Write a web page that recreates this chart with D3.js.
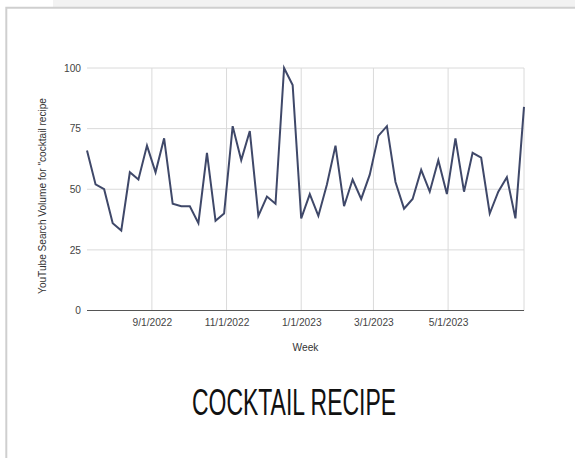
<!DOCTYPE html>
<html>
<head>
<meta charset="utf-8">
<script src="https://cdn.jsdelivr.net/npm/d3@7"></script>
<style>
  body { margin: 0; background: #fff; }
  svg { display: block; }
</style>
</head>
<body>
<div id="chart-area"></div>
<script>
// weekly data
const weeks = [
  "2022-07-10", "2022-07-17", "2022-07-24", "2022-07-31", "2022-08-07", "2022-08-14",
  "2022-08-21", "2022-08-28", "2022-09-04", "2022-09-11", "2022-09-18", "2022-09-25",
  "2022-10-02", "2022-10-09", "2022-10-16", "2022-10-23", "2022-10-30", "2022-11-06",
  "2022-11-13", "2022-11-20", "2022-11-27", "2022-12-04", "2022-12-11", "2022-12-18",
  "2022-12-25", "2023-01-01", "2023-01-08", "2023-01-15", "2023-01-22", "2023-01-29",
  "2023-02-05", "2023-02-12", "2023-02-19", "2023-02-26", "2023-03-05", "2023-03-12",
  "2023-03-19", "2023-03-26", "2023-04-02", "2023-04-09", "2023-04-16", "2023-04-23",
  "2023-04-30", "2023-05-07", "2023-05-14", "2023-05-21", "2023-05-28", "2023-06-04",
  "2023-06-11", "2023-06-18", "2023-06-25", "2023-07-02"
];
const volume = [
  66, 52, 50, 36, 33, 57, 54, 68, 57, 71, 44, 43, 43,
  36, 65, 37, 40, 76, 62, 74, 39, 47, 44, 100, 93, 38,
  48, 39, 52, 68, 43, 54, 46, 56, 72, 76, 53, 42, 46,
  58, 49, 62, 48, 71, 49, 65, 63, 40, 49, 55, 38, 84
];
const yTicks = [0, 25, 50, 75, 100];
const xTicks = ["2022-09-01", "2022-11-01", "2023-01-01", "2023-03-01", "2023-05-01"];

const W = 575, H = 458;
const margin = { left: 87, right: 51, top: 68, bottom: 147.5 };
const width = W - margin.left - margin.right,
    height = H - margin.top - margin.bottom;
const font = "Liberation Sans, Arial, sans-serif";

const parse = d3.timeParse("%Y-%m-%d");
const data = weeks.map(function(d, i){ return { date: parse(d), value: volume[i] }; });

const svg = d3.select("#chart-area")
  .append("svg")
    .attr("width", W)
    .attr("height", H);

// page frame (grey strip at top, card border)
svg.append("rect")
  .attr("x", 53).attr("y", 0).attr("width", W - 53).attr("height", 7)
  .attr("fill", "#f2f2f2");
svg.append("path")
  .attr("d", "M6.3," + H + "V7.8H" + W)
  .attr("fill", "none")
  .attr("stroke", "#cfcfcf")
  .attr("stroke-width", 2);

const g = svg.append("g")
  .attr("transform", "translate(" + margin.left + "," + margin.top + ")");

// scales
const x = d3.scaleTime()
  .domain(d3.extent(data, function(d){ return d.date; }))
  .range([0, width]);
const y = d3.scaleLinear()
  .domain([0, 100])
  .range([height, 0]);

// horizontal grid
g.append("g")
  .selectAll("line")
  .data(yTicks.filter(function(d){ return d > 0; }))
  .enter().append("line")
    .attr("x1", 0).attr("x2", width)
    .attr("y1", function(d){ return y(d); })
    .attr("y2", function(d){ return y(d); })
    .attr("stroke", "#dadada");

// vertical grid (ticks + right edge)
g.append("g")
  .selectAll("line")
  .data(xTicks.map(parse).concat([x.domain()[1]]))
  .enter().append("line")
    .attr("x1", function(d){ return x(d); })
    .attr("x2", function(d){ return x(d); })
    .attr("y1", 0).attr("y2", height)
    .attr("stroke", "#dadada");

// axes
const yCall = d3.axisLeft(y).tickValues(yTicks).tickSize(0).tickPadding(6);
g.append("g")
  .attr("class", "y axis")
  .call(yCall)
  .call(function(a){ a.select(".domain").remove(); })
  .selectAll("text")
    .attr("font-family", font)
    .attr("font-size", "10.2px")
    .attr("fill", "#444");

const xCall = d3.axisBottom(x)
  .tickValues(xTicks.map(parse))
  .tickFormat(d3.timeFormat("%-m/%-d/%Y"))
  .tickSize(0).tickPadding(8);
const xApp = g.append("g")
  .attr("class", "x axis")
  .attr("transform", "translate(0," + height + ")")
  .call(xCall);
xApp.select(".domain").remove();
xApp.selectAll("text")
  .attr("font-family", font)
  .attr("font-size", "10.2px")
  .attr("fill", "#444");

// baseline
g.append("line")
  .attr("x1", 0).attr("x2", width)
  .attr("y1", y(0)).attr("y2", y(0))
  .attr("stroke", "#555")
  .attr("stroke-width", 1.2);

// the line
const line = d3.line()
  .x(function(d){ return x(d.date); })
  .y(function(d){ return y(d.value); });
g.append("path")
  .datum(data)
  .attr("fill", "none")
  .attr("stroke", "#3f4869")
  .attr("stroke-width", 2)
  .attr("stroke-linejoin", "miter")
  .attr("d", line);

// labels
g.append("text")
  .attr("x", width / 2)
  .attr("y", height + 40)
  .attr("text-anchor", "middle")
  .attr("font-family", font)
  .attr("font-size", "10.2px")
  .attr("fill", "#333")
  .text("Week");

g.append("text")
  .attr("transform", "rotate(-90)")
  .attr("x", -(196 - margin.top))
  .attr("y", 46 - margin.left)
  .attr("text-anchor", "middle")
  .attr("font-family", font)
  .attr("font-size", "10.1px")
  .attr("fill", "#333")
  .text("YouTube Search Volume for \"cocktail recipe");

// title
svg.append("text")
  .attr("x", 294)
  .attr("y", 415)
  .attr("text-anchor", "middle")
  .attr("font-family", "Liberation Sans Narrow, Liberation Sans, sans-serif")
  .attr("font-size", "36px")
  .attr("textLength", 204)
  .attr("lengthAdjust", "spacingAndGlyphs")
  .attr("fill", "#111")
  .text("COCKTAIL RECIPE");
</script>
</body>
</html>
